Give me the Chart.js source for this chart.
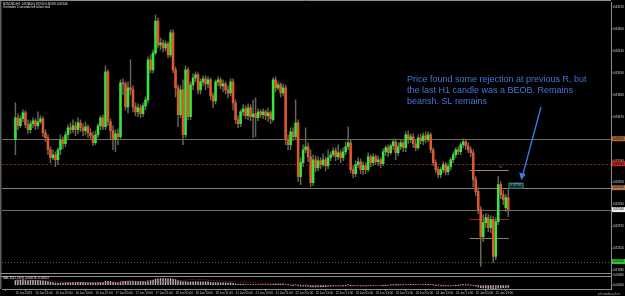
<!DOCTYPE html>
<html>
<head>
<meta charset="utf-8">
<script src="https://cdn.jsdelivr.net/npm/chart.js@4.4.0/dist/chart.umd.min.js"></script>
<style>
  html, body { margin: 0; padding: 0; background: #000; }
  #wrap { width: 625px; height: 296px; }
</style>
</head>
<body>
<div id="wrap"><canvas id="chart" width="625" height="296"></canvas></div>
<script>
// NZDUSD H1 - hourly candles
const opens = [
  0.8324,0.8346,0.8338,0.8345,0.8351,0.8339,0.8334,0.8340,0.8343,0.8338,
  0.8342,0.8345,0.8331,0.8326,0.8314,0.8306,0.8309,0.8304,0.8314,0.8324,
  0.8320,0.8329,0.8336,0.8334,0.8338,0.8334,0.8341,0.8336,0.8333,0.8337,
  0.8331,0.8328,0.8321,0.8329,0.8338,0.8346,0.8337,0.8392,0.8342,0.8333,
  0.8324,0.8330,0.8327,0.8381,0.8380,0.8357,0.8376,0.8374,0.8357,0.8352,
  0.8356,0.8350,0.8358,0.8364,0.8404,0.8394,0.8411,0.8443,0.8419,0.8421,
  0.8416,0.8420,0.8409,0.8431,0.8394,0.8376,0.8349,0.8374,0.8329,0.8394,
  0.8347,0.8379,0.8386,0.8389,0.8374,0.8382,0.8385,0.8380,0.8384,0.8368,
  0.8363,0.8382,0.8384,0.8378,0.8380,0.8374,0.8371,0.8382,0.8361,0.8344,
  0.8340,0.8352,0.8355,0.8348,0.8356,0.8347,0.8350,0.8346,0.8352,0.8349,
  0.8352,0.8348,0.8351,0.8344,0.8384,0.8376,0.8379,0.8371,0.8376,0.8324,
  0.8319,0.8332,0.8327,0.8341,0.8287,0.8301,0.8314,0.8317,0.8307,0.8281,
  0.8304,0.8296,0.8303,0.8299,0.8304,0.8298,0.8306,0.8309,0.8313,0.8307,
  0.8311,0.8306,0.8312,0.8317,0.8321,0.8294,0.8290,0.8299,0.8302,0.8294,
  0.8298,0.8294,0.8307,0.8301,0.8307,0.8302,0.8304,0.8300,0.8312,0.8316,
  0.8311,0.8318,0.8322,0.8311,0.8317,0.8321,0.8316,0.8329,0.8324,0.8327,
  0.8320,0.8316,0.8326,0.8323,0.8328,0.8324,0.8329,0.8314,0.8301,0.8294,
  0.8289,0.8294,0.8299,0.8292,0.8297,0.8304,0.8309,0.8314,0.8312,0.8319,
  0.8322,0.8318,0.8314,0.8311,0.8284,0.8272,0.8254,0.8227,0.8241,0.8246,
  0.8236,0.8244,0.8207,0.8242,0.8279,0.8269,0.8256,0.8266
];
const highs = [
  0.8361,0.8350,0.8348,0.8354,0.8353,0.8344,0.8343,0.8346,0.8345,0.8352,
  0.8348,0.8347,0.8334,0.8329,0.8317,0.8314,0.8312,0.8316,0.8329,0.8327,
  0.8332,0.8339,0.8341,0.8344,0.8342,0.8346,0.8344,0.8340,0.8342,0.8339,
  0.8335,0.8332,0.8333,0.8340,0.8348,0.8349,0.8398,0.8394,0.8345,0.8338,
  0.8334,0.8335,0.8384,0.8385,0.8382,0.8382,0.8404,0.8378,0.8361,0.8360,
  0.8359,0.8361,0.8367,0.8407,0.8409,0.8414,0.8449,0.8446,0.8426,0.8424,
  0.8423,0.8422,0.8434,0.8434,0.8397,0.8379,0.8378,0.8384,0.8398,0.8396,
  0.8382,0.8390,0.8392,0.8391,0.8385,0.8388,0.8388,0.8387,0.8386,0.8371,
  0.8384,0.8387,0.8386,0.8384,0.8382,0.8378,0.8385,0.8385,0.8364,0.8348,
  0.8354,0.8359,0.8358,0.8360,0.8359,0.8364,0.8366,0.8355,0.8354,0.8355,
  0.8354,0.8356,0.8353,0.8386,0.8387,0.8382,0.8381,0.8380,0.8379,0.8329,
  0.8336,0.8336,0.8364,0.8344,0.8306,0.8319,0.8336,0.8321,0.8314,0.8309,
  0.8308,0.8307,0.8306,0.8310,0.8307,0.8314,0.8312,0.8316,0.8316,0.8319,
  0.8314,0.8316,0.8322,0.8337,0.8324,0.8298,0.8303,0.8306,0.8305,0.8302,
  0.8301,0.8311,0.8309,0.8310,0.8309,0.8308,0.8306,0.8315,0.8318,0.8319,
  0.8320,0.8325,0.8325,0.8321,0.8324,0.8323,0.8332,0.8333,0.8330,0.8330,
  0.8324,0.8329,0.8330,0.8331,0.8332,0.8332,0.8331,0.8316,0.8304,0.8297,
  0.8296,0.8302,0.8301,0.8300,0.8306,0.8312,0.8316,0.8317,0.8321,0.8325,
  0.8324,0.8321,0.8317,0.8314,0.8287,0.8276,0.8257,0.8249,0.8250,0.8249,
  0.8248,0.8247,0.8246,0.8287,0.8282,0.8273,0.8269,0.8274
];
const lows = [
  0.8309,0.8334,0.8336,0.8342,0.8336,0.8330,0.8331,0.8336,0.8334,0.8335,
  0.8340,0.8327,0.8322,0.8309,0.8301,0.8304,0.8297,0.8299,0.8309,0.8315,
  0.8317,0.8324,0.8330,0.8331,0.8328,0.8330,0.8332,0.8328,0.8329,0.8326,
  0.8324,0.8318,0.8319,0.8326,0.8334,0.8334,0.8334,0.8338,0.8324,0.8314,
  0.8312,0.8319,0.8324,0.8369,0.8354,0.8351,0.8369,0.8352,0.8348,0.8347,
  0.8346,0.8347,0.8354,0.8361,0.8391,0.8391,0.8409,0.8416,0.8414,0.8412,
  0.8413,0.8406,0.8407,0.8391,0.8367,0.8337,0.8346,0.8319,0.8326,0.8344,
  0.8344,0.8374,0.8382,0.8370,0.8370,0.8378,0.8374,0.8376,0.8364,0.8356,
  0.8360,0.8378,0.8375,0.8372,0.8370,0.8366,0.8368,0.8354,0.8340,0.8336,
  0.8337,0.8348,0.8345,0.8344,0.8343,0.8326,0.8327,0.8343,0.8346,0.8345,
  0.8344,0.8342,0.8340,0.8342,0.8372,0.8374,0.8367,0.8368,0.8319,0.8314,
  0.8314,0.8323,0.8324,0.8282,0.8279,0.8297,0.8311,0.8302,0.8277,0.8278,
  0.8292,0.8293,0.8295,0.8297,0.8293,0.8295,0.8303,0.8307,0.8303,0.8304,
  0.8301,0.8303,0.8309,0.8314,0.8291,0.8286,0.8287,0.8296,0.8290,0.8289,
  0.8290,0.8292,0.8297,0.8298,0.8299,0.8298,0.8296,0.8298,0.8308,0.8307,
  0.8309,0.8314,0.8304,0.8308,0.8314,0.8312,0.8312,0.8320,0.8321,0.8316,
  0.8313,0.8314,0.8320,0.8319,0.8321,0.8322,0.8311,0.8298,0.8291,0.8286,
  0.8286,0.8291,0.8289,0.8289,0.8294,0.8301,0.8306,0.8309,0.8309,0.8316,
  0.8314,0.8311,0.8307,0.8277,0.8268,0.8250,0.8197,0.8222,0.8236,0.8232,
  0.8231,0.8201,0.8204,0.8239,0.8265,0.8259,0.8252,0.8247
];
const closes = [
  0.8346,0.8338,0.8345,0.8351,0.8339,0.8334,0.8340,0.8343,0.8338,0.8342,
  0.8345,0.8331,0.8326,0.8314,0.8306,0.8309,0.8304,0.8314,0.8324,0.8320,
  0.8329,0.8336,0.8334,0.8338,0.8334,0.8341,0.8336,0.8333,0.8337,0.8331,
  0.8328,0.8321,0.8329,0.8338,0.8346,0.8337,0.8392,0.8342,0.8333,0.8324,
  0.8330,0.8327,0.8381,0.8380,0.8357,0.8376,0.8374,0.8357,0.8352,0.8356,
  0.8350,0.8358,0.8364,0.8404,0.8394,0.8411,0.8443,0.8419,0.8421,0.8416,
  0.8420,0.8409,0.8431,0.8394,0.8376,0.8349,0.8374,0.8329,0.8394,0.8347,
  0.8379,0.8386,0.8389,0.8374,0.8382,0.8385,0.8380,0.8384,0.8368,0.8363,
  0.8382,0.8384,0.8378,0.8380,0.8374,0.8371,0.8382,0.8361,0.8344,0.8340,
  0.8352,0.8355,0.8348,0.8356,0.8347,0.8350,0.8346,0.8352,0.8349,0.8352,
  0.8348,0.8351,0.8345,0.8384,0.8376,0.8379,0.8371,0.8376,0.8324,0.8319,
  0.8332,0.8327,0.8341,0.8287,0.8301,0.8314,0.8317,0.8307,0.8281,0.8304,
  0.8296,0.8303,0.8299,0.8304,0.8298,0.8306,0.8309,0.8313,0.8307,0.8311,
  0.8306,0.8312,0.8317,0.8321,0.8294,0.8290,0.8299,0.8302,0.8294,0.8298,
  0.8294,0.8307,0.8301,0.8307,0.8302,0.8304,0.8300,0.8312,0.8316,0.8311,
  0.8318,0.8322,0.8311,0.8317,0.8321,0.8316,0.8329,0.8324,0.8327,0.8320,
  0.8316,0.8326,0.8323,0.8328,0.8324,0.8329,0.8314,0.8301,0.8294,0.8289,
  0.8294,0.8299,0.8292,0.8297,0.8304,0.8309,0.8314,0.8312,0.8319,0.8322,
  0.8318,0.8314,0.8311,0.8284,0.8272,0.8254,0.8227,0.8241,0.8246,0.8236,
  0.8244,0.8207,0.8242,0.8279,0.8269,0.8264,0.8266,0.8254
];

// MACD(12,26,9) histogram, one value per bar
const macdHist = [
  0.00038,0.00040,0.00039,0.00041,0.00040,0.00038,0.00037,0.00038,0.00036,0.00037,
  0.00036,0.00034,0.00031,0.00027,0.00022,0.00019,0.00015,0.00014,0.00015,0.00015,
  0.00017,0.00019,0.00020,0.00021,0.00021,0.00022,0.00022,0.00021,0.00021,0.00020,
  0.00019,0.00017,0.00017,0.00019,0.00022,0.00022,0.00031,0.00030,0.00027,0.00024,
  0.00022,0.00020,0.00025,0.00029,0.00029,0.00031,0.00032,0.00031,0.00029,0.00028,
  0.00027,0.00027,0.00028,0.00033,0.00036,0.00040,0.00046,0.00048,0.00050,0.00050,
  0.00050,0.00048,0.00050,0.00047,0.00042,0.00035,0.00032,0.00025,0.00027,0.00024,
  0.00025,0.00026,0.00027,0.00026,0.00026,0.00026,0.00025,0.00025,0.00022,0.00019,
  0.00019,0.00019,0.00018,0.00018,0.00017,0.00016,0.00017,0.00014,0.00010,0.00007,
  0.00006,0.00006,0.00005,0.00005,0.00004,0.00004,0.00003,0.00003,0.00003,0.00003,
  0.00003,0.00003,0.00002,0.00006,0.00008,0.00009,0.00009,0.00010,0.00005,0.00001,
  0.00000,-0.00001,0.00001,-0.00006,-0.00008,-0.00008,-0.00008,-0.00009,-0.00013,-0.00013,
  -0.00013,-0.00013,-0.00012,-0.00011,-0.00011,-0.00009,-0.00008,-0.00006,-0.00005,-0.00004,
  -0.00004,-0.00002,-0.00001,0.00001,-0.00002,-0.00004,-0.00005,-0.00005,-0.00006,-0.00006,
  -0.00006,-0.00005,-0.00005,-0.00004,-0.00004,-0.00004,-0.00004,-0.00002,-0.00001,-0.00001,
  0.00001,0.00002,0.00001,0.00002,0.00003,0.00003,0.00005,0.00005,0.00006,0.00005,
  0.00004,0.00005,0.00005,0.00006,0.00006,0.00006,0.00004,0.00001,-0.00002,-0.00005,
  -0.00006,-0.00006,-0.00007,-0.00007,-0.00006,-0.00004,-0.00002,-0.00001,0.00001,0.00002,
  0.00002,0.00001,0.00000,-0.00004,-0.00008,-0.00013,-0.00020,-0.00022,-0.00023,-0.00025,
  -0.00025,-0.00030,-0.00029,-0.00024,-0.00022,-0.00020,-0.00018,-0.00018
];
// MACD signal line, read at these bars
const signalBars = [0,8,16,24,32,40,48,56,64,72,80,88,96,104,112,120,128,136,144,152,160,168,176,184,192,197];
const signalValues = [0.00036,0.00037,0.00028,0.00018,0.00020,0.00021,0.00024,0.00028,0.00030,0.00045,0.00034,0.00026,0.00018,0.00009,0.00005,-0.00004,-0.00010,-0.00006,-0.00005,-0.00002,0.00003,0.00003,-0.00003,0.00000,-0.00020,-0.00022];

// time axis labels, one every 8 bars
const timeLabels = [
  "15 Jan 2013","15 Jan 21:00","16 Jan 05:00","16 Jan 13:00","16 Jan 21:00",
  "17 Jan 05:00","17 Jan 13:00","17 Jan 21:00","18 Jan 05:00","18 Jan 13:00",
  "18 Jan 21:00","21 Jan 05:00","21 Jan 13:00","21 Jan 21:00","22 Jan 05:00",
  "22 Jan 13:00","22 Jan 21:00","23 Jan 05:00","23 Jan 13:00","23 Jan 21:00",
  "24 Jan 05:00","24 Jan 13:00","24 Jan 21:00","25 Jan 05:00","25 Jan 13:00"
];
const priceTicks = [
  0.8457,0.8446,0.8435,0.8424,0.8413,0.8402,0.8391,0.8380,0.8369,0.8358,
  0.8347,0.8336,0.8325,0.8314,0.8303,0.8292,0.8281,0.8270,0.8259,0.8248,
  0.8237,0.8226,0.8215,0.8204,0.8193
];
const macdTicks = [0.0008, 0.0];

// horizontal levels drawn on the chart
const levelPrices = [0.8325, 0.8300, 0.8276, 0.8254, 0.8202];
const tradePrices = [0.8294, 0.8245, 0.8226];
const boxPrice = 0.8278;

const levelStyle = [
  { color: "#75665e", dash: [], box: "#b06a34", text: "#000" },
  { color: "#7c2620", dash: [2, 2], box: "#c82222", text: "#000" },
  { color: "#8a7c72", dash: [], box: "#b47444", text: "#000" },
  { color: "#6e6e6e", dash: [], box: "#f0f0f0", text: "#000" },
  { color: "#3e7046", dash: [1, 2], box: "#2ec82e", text: "#000" }
];
const tradeStyle = ["#8a8a82", "#8c2c22", "#8a8262"];

const BULL = "#38e638";
const BEAR = "#e2582e";
const WICK = "#66665a";
const SMALL = "3px 'Liberation Sans', Arial, sans-serif";

const overlay = {
  id: "overlay",
  beforeDatasetsDraw(chart) {
    const { ctx, chartArea, scales } = chart;
    const x = scales.x, y = scales.y;
    ctx.save();
    ctx.lineWidth = 1;
    levelPrices.forEach((p, k) => {
      const py = Math.round(y.getPixelForValue(p)) + 0.5;
      ctx.strokeStyle = levelStyle[k].color;
      ctx.setLineDash(levelStyle[k].dash);
      ctx.beginPath();
      ctx.moveTo(chartArea.left, py);
      ctx.lineTo(chartArea.right, py);
      ctx.stroke();
    });
    ctx.setLineDash([]);
    const x0 = x.getPixelForValue(181.5), x1 = x.getPixelForValue(197.2);
    tradePrices.forEach((p, k) => {
      const py = Math.round(y.getPixelForValue(p)) + 0.5;
      ctx.strokeStyle = tradeStyle[k];
      ctx.beginPath();
      ctx.moveTo(x0, py);
      ctx.lineTo(x1, py);
      ctx.stroke();
    });
    ctx.fillStyle = "#9a9a92";
    ctx.font = "4px 'Liberation Sans', Arial, sans-serif";
    ctx.textBaseline = "bottom";
    ctx.fillText("0", x.getPixelForValue(193.5), y.getPixelForValue(tradePrices[0]) - 0.5);
    ctx.restore();
  },
  afterDraw(chart) {
    const { ctx, chartArea, scales } = chart;
    const x = scales.x, y = scales.y;
    ctx.save();

    // window frame and separators
    ctx.strokeStyle = "#8c8c8c";
    ctx.lineWidth = 1;
    ctx.beginPath();
    ctx.moveTo(0, 0.5); ctx.lineTo(chartArea.right, 0.5);
    ctx.moveTo(0.8, 0); ctx.lineTo(0.8, chartArea.bottom);
    ctx.moveTo(0, 273.5); ctx.lineTo(chartArea.right, 273.5);
    ctx.moveTo(0, 276.5); ctx.lineTo(chartArea.right, 276.5);
    ctx.stroke();

    // price boxes on the axis
    ctx.font = SMALL;
    ctx.textBaseline = "middle";
    levelPrices.forEach((p, k) => {
      const py = y.getPixelForValue(p);
      ctx.fillStyle = levelStyle[k].box;
      ctx.fillRect(chartArea.right + 1, py - 2.5, 14, 5);
      ctx.fillStyle = levelStyle[k].text;
      ctx.fillText(p.toFixed(5), chartArea.right + 2, py);
    });

    // price label object
    const bx = x.getPixelForValue(197.1), by = y.getPixelForValue(boxPrice);
    ctx.fillStyle = "#06201e";
    ctx.fillRect(bx, by - 3, 15, 6);
    ctx.strokeStyle = "#3c8c88";
    ctx.strokeRect(bx + 0.5, by - 2.5, 14, 5);
    ctx.fillStyle = "#8cd4cc";
    ctx.fillText(boxPrice.toFixed(5), bx + 2, by);

    // header texts
    const last = closes.length - 1;
    ctx.fillStyle = "#e6e6e6";
    ctx.fillText("NZDUSD,H1  " + opens[last].toFixed(5) + " " + highs[last].toFixed(5) + " " +
      lows[last].toFixed(5) + " " + closes[last].toFixed(5), 3, 4.2);
    ctx.fillText("9 minutes 5 seconds left to bar end", 3, 7.2);
    ctx.fillText("MACD(12,26,9) " + macdHist[last].toFixed(5) + " " +
      signalValues[signalValues.length - 1].toFixed(5), 3, 278.4);

    // comment
    ctx.fillStyle = "#4374dc";
    ctx.font = "9px 'Liberation Sans', Arial, sans-serif";
    ctx.textBaseline = "alphabetic";
    ctx.fillText("Price found some rejection at previous R, but", 407, 81.5);
    ctx.fillText("the last H1 candle was a BEOB. Remains", 407, 92.5);
    ctx.fillText("bearish. SL remains", 407, 103.5);

    // arrow
    ctx.strokeStyle = "#3a7ee8";
    ctx.fillStyle = "#3a7ee8";
    ctx.lineWidth = 1.3;
    ctx.beginPath();
    ctx.moveTo(541, 107);
    ctx.lineTo(523, 174);
    ctx.stroke();
    ctx.beginPath();
    ctx.moveTo(521.3, 180);
    ctx.lineTo(519.2, 172.5);
    ctx.lineTo(525.8, 174.3);
    ctx.closePath();
    ctx.fill();

    // watermark
    ctx.fillStyle = "#9a9a9a";
    ctx.font = "italic 4px 'Liberation Sans', Arial, sans-serif";
    ctx.fillText("photobucket", 598, 295);
    ctx.restore();
  }
};

const candleIdx = closes.map((c, i) => i);

new Chart(document.getElementById("chart"), {
  type: "bar",
  data: {
    datasets: [
      {
        label: "wicks",
        order: 3,
        data: candleIdx.map(i => ({ x: i, y: [lows[i], highs[i]] })),
        backgroundColor: WICK,
        barThickness: 0.8,
        grouped: false,
        yAxisID: "y"
      },
      {
        label: "bodies",
        order: 2,
        data: candleIdx.map(i => ({ x: i, y: [opens[i], closes[i]] })),
        backgroundColor: candleIdx.map(i => closes[i] >= opens[i] ? BULL : BEAR),
        barThickness: 1.9,
        grouped: false,
        yAxisID: "y"
      },
      {
        label: "MACD",
        order: 4,
        data: candleIdx.map(i => ({ x: i, y: macdHist[i] })),
        backgroundColor: "#b4b4b4",
        barThickness: 0.8,
        grouped: false,
        yAxisID: "y2"
      },
      {
        type: "line",
        label: "Signal",
        order: 1,
        data: signalBars.map((b, k) => ({ x: b, y: signalValues[k] })),
        borderColor: "#d22020",
        borderWidth: 0.8,
        borderDash: [1.5, 1.5],
        pointRadius: 0,
        tension: 0.3,
        yAxisID: "y2"
      }
    ]
  },
  options: {
    responsive: false,
    animation: false,
    layout: { padding: { left: 2, top: 2, right: 0, bottom: 0 } },
    plugins: { legend: { display: false }, tooltip: { enabled: false } },
    scales: {
      x: {
        type: "linear",
        min: -0.5,
        max: 233.2,
        grid: { drawOnChartArea: false, color: "#8c8c8c", tickLength: 2 },
        border: { color: "#8c8c8c" },
        ticks: {
          color: "#c8c8c8",
          font: { size: 3, family: "'Liberation Sans', Arial, sans-serif", lineHeight: 1 },
          padding: 0.5,
          align: "start",
          maxRotation: 0,
          autoSkip: false,
          callback: v => timeLabels[v / 8]
        },
        afterBuildTicks: axis => { axis.ticks = timeLabels.map((t, k) => ({ value: k * 8 })); },
        afterFit: axis => { axis.height = 7; axis.paddingLeft = 0; axis.paddingRight = 0; }
      },
      y: {
        position: "right",
        stack: "win",
        stackWeight: 271.5,
        min: 0.8190,
        max: 0.8462,
        grid: { drawOnChartArea: false, color: "#8c8c8c", tickLength: 1.5 },
        border: { color: "#8c8c8c" },
        ticks: {
          color: "#d8d8d8",
          font: { size: 3, family: "'Liberation Sans', Arial, sans-serif", lineHeight: 1 },
          padding: 0.5,
          callback: v => v.toFixed(5)
        },
        afterBuildTicks: axis => { axis.ticks = priceTicks.map(v => ({ value: v })); },
        afterFit: axis => { axis.width = 14; axis.paddingTop = 0; axis.paddingBottom = 0; }
      },
      y2: {
        position: "right",
        stack: "win",
        stackWeight: 15.5,
        min: -0.0003,
        max: 0.0009,
        grid: { drawOnChartArea: false, color: "#8c8c8c", tickLength: 1.5 },
        border: { color: "#8c8c8c" },
        ticks: {
          color: "#d8d8d8",
          font: { size: 3, family: "'Liberation Sans', Arial, sans-serif", lineHeight: 1 },
          padding: 0.5,
          callback: v => v.toFixed(5)
        },
        afterBuildTicks: axis => { axis.ticks = macdTicks.map(v => ({ value: v })); },
        afterFit: axis => { axis.width = 14; axis.paddingTop = 0; axis.paddingBottom = 0; }
      }
    }
  },
  plugins: [overlay]
});
</script>
</body>
</html>
